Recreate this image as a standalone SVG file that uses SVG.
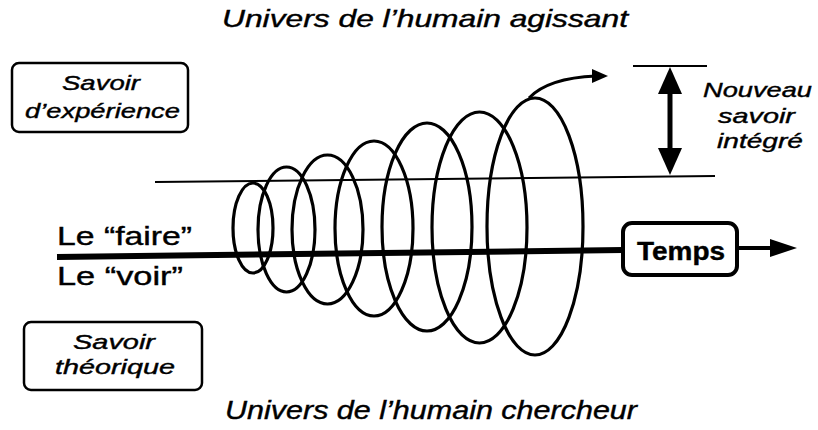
<svg xmlns="http://www.w3.org/2000/svg" width="818" height="430" viewBox="0 0 818 430">
<style>
text{font-family:"Liberation Sans",Arial,sans-serif;fill:#000;stroke:#000;stroke-width:0.4}
.it{font-style:italic}
.box{fill:#fff;stroke:#000;stroke-width:2.5}
.loop{fill:none;stroke:#000;stroke-width:3.2}
.thin{stroke:#000;stroke-width:2;fill:none}
.thick{stroke:#000;stroke-width:6;fill:none}
</style>
<rect width="818" height="430" fill="#fff"/>
<g id="titre-haut"><text class="it" x="222" y="27" font-size="24" textLength="406" lengthAdjust="spacingAndGlyphs">Univers de l’humain agissant</text></g>
<g id="titre-bas"><text class="it" x="225" y="419" font-size="25" textLength="412" lengthAdjust="spacingAndGlyphs">Univers de l’humain chercheur</text></g>
<g id="connecteurs">
<line class="thin" x1="155" y1="182" x2="715" y2="176"/>
<line class="thin" x1="633" y1="66" x2="707" y2="66"/>
<line class="thick" x1="57" y1="257" x2="623" y2="250"/>
<g id="spirale">
<ellipse class="loop" cx="253" cy="228" rx="20" ry="45"/>
<ellipse class="loop" cx="286.5" cy="229.5" rx="28.5" ry="62.5"/>
<ellipse class="loop" cx="327.5" cy="229.5" rx="35.5" ry="74.5"/>
<ellipse class="loop" cx="374" cy="228.5" rx="39" ry="87.5"/>
<ellipse class="loop" cx="427" cy="227" rx="45" ry="104"/>
<ellipse class="loop" cx="479.5" cy="227.5" rx="47.5" ry="115.5"/>
<ellipse class="loop" cx="535" cy="226.5" rx="48" ry="128.5"/>
</g>
<path d="M529,98 Q548,78 596,76" stroke="#000" stroke-width="3" fill="none"/>
<path d="M592,69 L608,76 L592,83 z" fill="#000"/>
<line x1="670" y1="90" x2="670" y2="152" stroke="#000" stroke-width="5"/>
<path d="M670,67 L682,94 L658,94 z" fill="#000"/>
<path d="M670,175 L682,148 L658,148 z" fill="#000"/>
<line x1="737" y1="248" x2="775" y2="248" stroke="#000" stroke-width="4"/>
<path d="M770,239 L797,248 L770,257 z" fill="#000"/>
</g>
<g id="savoir-experience">
<rect class="box" x="12" y="63" width="176" height="69" rx="7"/>
<text class="it" x="62" y="90" font-size="21" textLength="78" lengthAdjust="spacingAndGlyphs">Savoir</text>
<text class="it" x="25" y="118" font-size="21" textLength="155" lengthAdjust="spacingAndGlyphs">d’expérience</text>
</g>
<g id="savoir-theorique">
<rect class="box" x="24" y="322" width="178" height="68" rx="7"/>
<text class="it" x="73" y="349" font-size="21" textLength="82" lengthAdjust="spacingAndGlyphs">Savoir</text>
<text class="it" x="55" y="374" font-size="21" textLength="120" lengthAdjust="spacingAndGlyphs">théorique</text>
</g>
<g id="faire-voir">
<text x="57" y="245" font-size="26" textLength="135" lengthAdjust="spacingAndGlyphs">Le “faire”</text>
<text x="57" y="285" font-size="26" textLength="126" lengthAdjust="spacingAndGlyphs">Le “voir”</text>
</g>
<g id="temps">
<rect x="623" y="223" width="114" height="52" rx="9" fill="#fff" stroke="#000" stroke-width="4"/>
<text x="637" y="260" font-size="25" font-weight="bold" textLength="88" lengthAdjust="spacingAndGlyphs">Temps</text>
</g>
<g id="nouveau-savoir">
<text class="it" x="703" y="97" font-size="21" textLength="109" lengthAdjust="spacingAndGlyphs">Nouveau</text>
<text class="it" x="718" y="123" font-size="21" textLength="77" lengthAdjust="spacingAndGlyphs">savoir</text>
<text class="it" x="717" y="148" font-size="21" textLength="86" lengthAdjust="spacingAndGlyphs">intégré</text>
</g>
</svg>
